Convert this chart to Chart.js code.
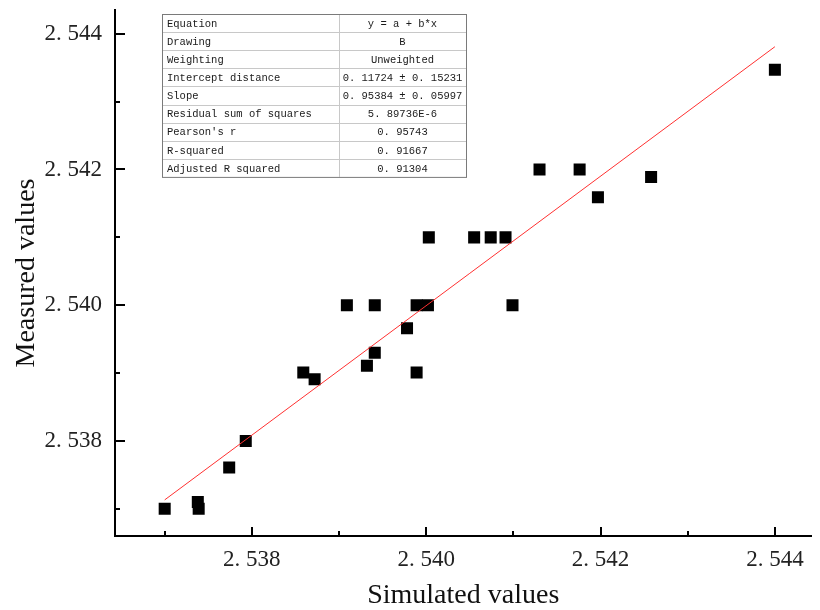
<!DOCTYPE html>
<html>
<head>
<meta charset="utf-8">
<script src="https://cdn.jsdelivr.net/npm/chart.js@4"></script>
<style>
  html, body { margin: 0; padding: 0; background: #fff; }
  #wrap { width: 820px; height: 610px; }
</style>
</head>
<body>
<div id="wrap"><canvas id="fitChart" width="820" height="610"></canvas></div>
<script>
// data
const simulated = [2.53700, 2.53738, 2.53739, 2.53774, 2.53793, 2.53859, 2.53872, 2.53909,
  2.53941, 2.53932, 2.53941, 2.53978, 2.53989, 2.54002, 2.53989, 2.54099,
  2.54003, 2.54055, 2.54074, 2.54091, 2.54130, 2.54176, 2.54197, 2.54258, 2.54400];
const measured = [2.53700, 2.53710, 2.53700, 2.53761, 2.53800, 2.53901, 2.53891, 2.54000,
  2.54000, 2.53911, 2.53930, 2.53966, 2.54000, 2.54000, 2.53901, 2.54000,
  2.54100, 2.54100, 2.54100, 2.54100, 2.54200, 2.54200, 2.54159, 2.54189, 2.54347];

const fitIntercept = 0.11724;
const fitSlope = 0.95384;

const xMajor = [2.538, 2.540, 2.542, 2.544];
const xMinor = [2.537, 2.539, 2.541, 2.543];
const yMajor = [2.538, 2.540, 2.542, 2.544];
const yMinor = [2.537, 2.539, 2.541, 2.543];

const tableLabels = ["Equation", "Drawing", "Weighting", "Intercept distance", "Slope",
  "Residual sum of squares", "Pearson's r", "R-squared", "Adjusted R squared"];
const tableValues = ["y = a + b*x", "B", "Unweighted", "0. 11724 \u00b1 0. 15231",
  "0. 95384 \u00b1 0. 05997", "5. 89736E-6", "0. 95743", "0. 91667", "0. 91304"];

const points = simulated.map((x, i) => ({ x: x, y: measured[i] }));
const xLo = Math.min(...simulated);
const xHi = Math.max(...simulated);
const fitLine = [
  { x: xLo, y: fitIntercept + fitSlope * xLo },
  { x: xHi, y: fitIntercept + fitSlope * xHi },
];

const fmt = (v) => v.toFixed(3).replace(".", ". ");

// inward tick marks
const tickPlugin = {
  id: "tickPlugin",
  afterDraw(chart) {
    const { ctx, chartArea } = chart;
    const xs = chart.scales.x;
    const ys = chart.scales.y;
    ctx.save();
    ctx.strokeStyle = "#000";
    ctx.lineWidth = 2;
    const drawX = (vals, len) => vals.forEach((v) => {
      const px = Math.round(xs.getPixelForValue(v));
      ctx.beginPath();
      ctx.moveTo(px, chartArea.bottom);
      ctx.lineTo(px, chartArea.bottom - len);
      ctx.stroke();
    });
    const drawY = (vals, len) => vals.forEach((v) => {
      const py = Math.round(ys.getPixelForValue(v));
      ctx.beginPath();
      ctx.moveTo(chartArea.left, py);
      ctx.lineTo(chartArea.left + len, py);
      ctx.stroke();
    });
    drawX(xMajor, 9);
    drawX(xMinor, 5);
    drawY(yMajor, 10);
    drawY(yMinor, 5);
    ctx.restore();
  },
};

// fit results table
const tablePlugin = {
  id: "tablePlugin",
  afterDraw(chart) {
    const { ctx, chartArea } = chart;
    const left = chartArea.left + 47;
    const top = chartArea.top + 4;
    const col1 = 177, col2 = 127, rowH = 18.1;
    const h = rowH * tableLabels.length;
    ctx.save();
    ctx.fillStyle = "#fff";
    ctx.fillRect(left, top, col1 + col2, h);
    ctx.strokeStyle = "#c8c8c8";
    ctx.lineWidth = 1;
    for (let i = 1; i < tableLabels.length; i++) {
      const y = Math.round(top + i * rowH) + 0.5;
      ctx.beginPath();
      ctx.moveTo(left, y);
      ctx.lineTo(left + col1 + col2, y);
      ctx.stroke();
    }
    ctx.beginPath();
    ctx.moveTo(left + col1 + 0.5, top);
    ctx.lineTo(left + col1 + 0.5, top + h);
    ctx.stroke();
    ctx.strokeStyle = "#7a7a7a";
    ctx.strokeRect(left + 0.5, top + 0.5, col1 + col2, h);
    ctx.fillStyle = "#1a1a1a";
    ctx.font = "10.5px 'Liberation Mono'";
    ctx.textBaseline = "middle";
    tableLabels.forEach((t, i) => {
      const y = top + (i + 0.5) * rowH + 1;
      ctx.textAlign = "left";
      ctx.fillText(t, left + 5, y);
      ctx.textAlign = "center";
      ctx.fillText(tableValues[i], left + col1 + col2 / 2, y);
    });
    ctx.restore();
  },
};

new Chart(document.getElementById("fitChart"), {
  type: "scatter",
  data: {
    datasets: [
      {
        type: "line",
        label: "Fit",
        data: fitLine,
        borderColor: "#ff3030",
        borderWidth: 1,
        pointRadius: 0,
        fill: false,
        order: 0,
      },
      {
        label: "Measured",
        data: points,
        pointStyle: "rect",
        pointRadius: 8.5,
        backgroundColor: "#000",
        borderWidth: 0,
        order: 1,
      },
    ],
  },
  options: {
    responsive: false,
    animation: false,
    layout: { padding: { top: 10, right: 2, left: 0, bottom: 0 } },
    plugins: {
      legend: { display: false },
      tooltip: { enabled: false },
    },
    scales: {
      x: {
        type: "linear",
        min: 2.53643,
        max: 2.54442,
        afterFit: (s) => { s.height = 74; s.paddingRight = 0; },
        afterBuildTicks: (s) => { s.ticks = xMajor.map((v) => ({ value: v })); },
        grid: { display: false, drawTicks: false },
        border: { display: true, color: "#000", width: 2 },
        ticks: {
          padding: 10,
          color: "#222",
          font: { family: "'Liberation Serif'", size: 23 },
          callback: (v) => fmt(v),
        },
        title: {
          display: true,
          text: "Simulated values",
          color: "#111",
          font: { family: "'Liberation Serif'", size: 28, lineHeight: 1 },
          padding: { top: 0, bottom: 0 },
        },
      },
      y: {
        type: "linear",
        min: 2.53660,
        max: 2.54435,
        afterFit: (s) => { s.width = 115; s.paddingTop = 0; s.paddingBottom = 0; },
        afterBuildTicks: (s) => { s.ticks = yMajor.map((v) => ({ value: v })); },
        grid: { display: false, drawTicks: false },
        border: { display: true, color: "#000", width: 2 },
        ticks: {
          padding: 13,
          color: "#222",
          font: { family: "'Liberation Serif'", size: 23 },
          callback: (v) => fmt(v),
        },
        title: {
          display: true,
          text: "Measured values",
          color: "#111",
          font: { family: "'Liberation Serif'", size: 28, lineHeight: 1 },
          padding: { top: 13, bottom: 0 },
        },
      },
    },
  },
  plugins: [tickPlugin, tablePlugin],
});
</script>
</body>
</html>
